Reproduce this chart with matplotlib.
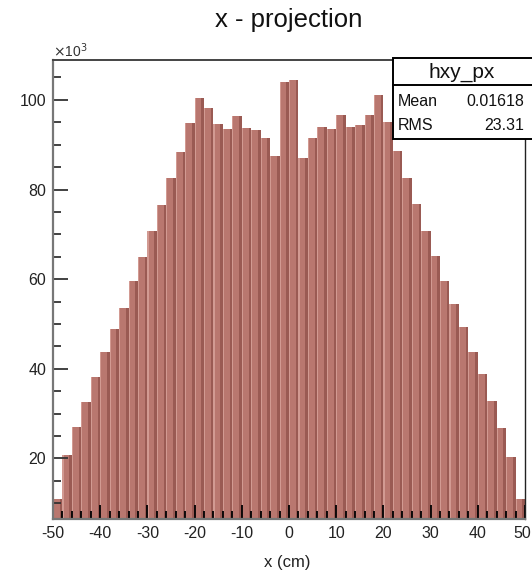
"""
x projection of the hxy histogram, drawn ROOT-style with shaded bars
and a stats box in the upper right corner.
"""
import numpy as np
import matplotlib.pyplot as plt
import matplotlib.patches as patches
from matplotlib.ticker import MultipleLocator, FuncFormatter

plt.rcParams["font.family"] = ["Liberation Sans", "DejaVu Sans"]
plt.rcParams["axes.unicode_minus"] = False

# ---- histogram contents (entries per 2 cm bin, in units of 10^3) ----
x_lo, x_hi = -50, 50
n_bins = 50
counts_k = [
    10.9, 20.8, 27.1, 32.5, 38.1, 43.7, 48.8, 53.5, 59.5, 64.9,
    70.7, 76.6, 82.5, 88.4, 94.9, 100.5, 98.1, 94.7, 93.6, 96.3,
    93.7, 93.3, 91.6, 87.4, 104.0, 104.4, 87.1, 91.5, 94.0, 93.4,
    96.7, 94.0, 94.3, 96.6, 101.2, 95.0, 88.7, 82.5, 76.7, 70.7,
    65.1, 59.6, 54.5, 49.4, 43.8, 38.9, 32.9, 26.8, 20.4, 11.0,
]
hist_name = "hxy_px"
stat_labels = ["Mean", "RMS"]
stat_values = ["0.01618", "23.31"]

W, H = 532, 575
fig = plt.figure(figsize=(W / 100, H / 100), dpi=100)

# frame in pixel coordinates
fx0, fx1, fy0, fy1 = 53, 525, 60, 519
ax = fig.add_axes([fx0 / W, 1 - fy1 / H, (fx1 - fx0) / W, (fy1 - fy0) / H])

edges = np.linspace(x_lo, x_hi, n_bins + 1)
bw = edges[1] - edges[0]
fill = "#b9776f"
light = "#d29a92"
dark = "#9a5a53"

# main bars plus light/dark stripes for the 3D look
ax.bar(edges[:-1], counts_k, width=bw, align="edge", color=fill,
       linewidth=0, zorder=1)
ax.bar(edges[:-1], counts_k, width=0.12 * bw, align="edge", color=light,
       linewidth=0, zorder=1.1)
ax.bar(edges[:-1] + 0.72 * bw, counts_k, width=0.28 * bw, align="edge",
       color=dark, linewidth=0, zorder=1.1)

ax.set_xlim(x_lo, x_hi)
ax.set_ylim(6.5, 108.9)

ax.xaxis.set_major_locator(MultipleLocator(10))
ax.xaxis.set_minor_locator(MultipleLocator(2))
ax.yaxis.set_major_locator(MultipleLocator(20))
ax.yaxis.set_minor_locator(MultipleLocator(5))
# the label at the right edge is placed by hand so it stays on the canvas
ax.xaxis.set_major_formatter(
    FuncFormatter(lambda v, _: "" if v >= x_hi else f"{v:.0f}"))

ax.tick_params(axis="x", which="both", direction="in", top=False,
               colors="black", labelcolor="#222222", labelsize=11.5, pad=5)
ax.tick_params(axis="x", which="major", length=10, width=1.3)
ax.tick_params(axis="x", which="minor", length=5.8, width=1.3)
ax.tick_params(axis="y", which="both", direction="in", right=False,
               colors="#333333", labelcolor="#222222", labelsize=11.5, pad=5)
ax.tick_params(axis="y", which="major", length=10.8, width=1.3)
ax.tick_params(axis="y", which="minor", length=5.5, width=1.3)

ax.annotate(f"{x_hi}", xy=(x_hi, 0), xycoords=("data", "axes fraction"),
            xytext=(4.5, -5), textcoords="offset points", ha="right",
            va="top", fontsize=11.5, color="#222222")

ax.spines["left"].set_color("#777777")
ax.spines["left"].set_linewidth(1.6)
ax.spines["bottom"].set_color("#777777")
ax.spines["bottom"].set_linewidth(1.6)
ax.spines["top"].set_color("#444444")
ax.spines["top"].set_linewidth(1.4)
ax.spines["right"].set_color("#222222")
ax.spines["right"].set_linewidth(1.0)

fig.text(287 / W, 1 - 563 / H, "x (cm)", ha="center", va="center",
         fontsize=12, color="#222222")
fig.text(289 / W, 1 - 20 / H, "x - projection", ha="center", va="center",
         fontsize=18.5, color="#111111")
fig.text(fx0 / W, 1 - 57 / H, r"$\times$10$^{3}$", ha="left", va="baseline",
         fontsize=10, color="#333333")

# stats box
bx0, bx1, by0, by1, by_mid = 393, 545, 58, 139, 85
box = patches.Rectangle((bx0 / W, 1 - by1 / H), (bx1 - bx0) / W, (by1 - by0) / H,
                        transform=fig.transFigure, facecolor="white",
                        edgecolor="black", linewidth=1.4, zorder=5)
fig.add_artist(box)
fig.add_artist(plt.Line2D([bx0 / W, 1], [1 - by_mid / H] * 2,
                          transform=fig.transFigure, color="black",
                          linewidth=1.4, zorder=6))
fig.text(462 / W, 1 - 72 / H, hist_name, ha="center", va="center",
         fontsize=15, color="#111111", zorder=7)
for i, (lab, val) in enumerate(zip(stat_labels, stat_values)):
    y = 1 - (101 + 25 * i) / H
    fig.text(398 / W, y, lab, ha="left", va="center", fontsize=11.5,
             color="#111111", zorder=7)
    fig.text(524 / W, y, val, ha="right", va="center", fontsize=11.5,
             color="#111111", zorder=7)

fig.savefig("out.png", dpi=100)
